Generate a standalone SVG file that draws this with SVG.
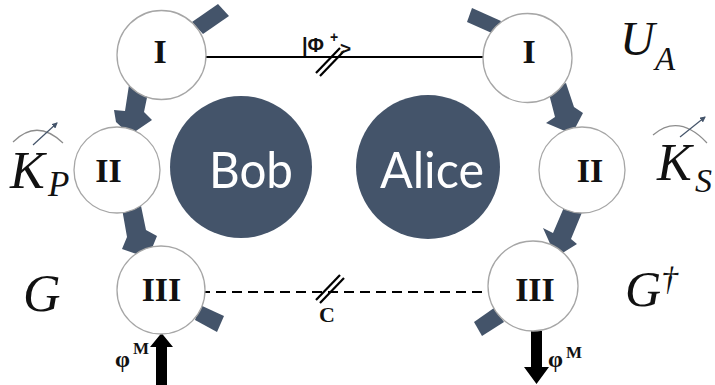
<svg xmlns="http://www.w3.org/2000/svg" width="715" height="385" viewBox="0 0 715 385">
  <defs>
    <style>
      .node { fill: #ffffff; stroke: #a6a6a6; stroke-width: 1.3; }
      .party { fill: #44546a; }
      .flow { fill: #44546a; }
      .roman { font-family: "Liberation Serif", "Times New Roman", serif; font-weight: bold; font-size: 34px; fill: #111111; text-anchor: middle; }
      .name { font-family: Lato, "Open Sans", sans-serif; font-size: 50px; fill: #ffffff; text-anchor: middle; }
      .math { font-family: "Liberation Serif", "Times New Roman", serif; font-style: italic; fill: #111111; }
      .lbl { font-family: "Liberation Serif", "Times New Roman", serif; font-weight: bold; fill: #111111; }
      .sans { font-family: "Liberation Sans", Arial, sans-serif; font-weight: bold; fill: #111111; }
      .gauge { fill: none; stroke: #8c8c8c; stroke-width: 1.2; }
      .needle { stroke: #44546a; stroke-width: 1.2; marker-end: url(#needleHead); }
    </style>
    <marker id="needleHead" markerWidth="6" markerHeight="6" refX="5" refY="3" orient="auto" markerUnits="userSpaceOnUse">
      <path d="M0,0 L6,3 L0,6 Z" fill="#44546a"/>
    </marker>
  </defs>

  <rect width="715" height="385" fill="#ffffff"/>

  <!-- connectors -->
  <g id="connectors">
    <!-- quantum channel -->
    <line x1="200" y1="57" x2="490" y2="57" stroke="#000" stroke-width="2"/>
    <line x1="316" y1="73" x2="340" y2="48" stroke="#000" stroke-width="2.2"/>
    <line x1="320" y1="76" x2="344" y2="51" stroke="#000" stroke-width="2.2"/>
    <!-- classical channel -->
    <line x1="200" y1="292" x2="492" y2="292" stroke="#000" stroke-width="2" stroke-dasharray="10,6"/>
    <line x1="316" y1="300" x2="340" y2="275" stroke="#000" stroke-width="2.2"/>
    <line x1="320" y1="303" x2="344" y2="278" stroke="#000" stroke-width="2.2"/>

    <!-- Bob-side flow -->
    <polygon class="flow" points="192,22 218,4 229,16 203,34"/>
    <polygon class="flow" points="129,85 149,88 144,112 152,120 130,135 116,122 114,110 125,111"/>
    <polygon class="flow" points="121,203 140,201 146,230 157,236 148,258 122,249 127,237"/>
    <polygon class="flow" points="200,305 224,316 217,332 195,320"/>

    <!-- Alice-side flow -->
    <polygon class="flow" points="472,8 501,21 494,34 467,22"/>
    <polygon class="flow" points="548,90 566,83 574,107 583,113 572,134 546,123 555,117"/>
    <polygon class="flow" points="565,205 583,210 571,239 577,244 556,257 543,228 553,233"/>
    <polygon class="flow" points="494,308 504,322 482,336 474,322"/>

    <!-- measurement inputs / outputs -->
    <polygon points="156,385 167,385 167,347 173,347 161.5,333 150,347 156,347" fill="#000"/>
    <polygon points="531,331 542,331 542,367 549,367 536.5,384 524,367 531,367" fill="#000"/>
  </g>

  <!-- Bob's nodes -->
  <g id="bob-I">
    <circle class="node" cx="161.5" cy="55" r="44.5"/>
    <text class="roman" x="160" y="63">I</text>
  </g>
  <g id="bob-II">
    <circle class="node" cx="117" cy="170" r="43"/>
    <text class="roman" x="108.5" y="182">II</text>
  </g>
  <g id="bob-III">
    <circle class="node" cx="161" cy="290" r="44"/>
    <text class="roman" x="161.5" y="301">III</text>
  </g>
  <g id="bob">
    <circle class="party" cx="241" cy="167" r="71"/>
    <text class="name" x="251" y="188" textLength="84" lengthAdjust="spacingAndGlyphs">Bob</text>
  </g>

  <!-- Alice's nodes -->
  <g id="alice-I">
    <circle class="node" cx="527.5" cy="58" r="44.5"/>
    <text class="roman" x="529" y="63">I</text>
  </g>
  <g id="alice-II">
    <circle class="node" cx="582" cy="170" r="43"/>
    <text class="roman" x="590" y="182">II</text>
  </g>
  <g id="alice-III">
    <circle class="node" cx="533" cy="286" r="45"/>
    <text class="roman" x="535" y="301">III</text>
  </g>
  <g id="alice">
    <circle class="party" cx="428" cy="167" r="72"/>
    <text class="name" x="432" y="188" textLength="104" lengthAdjust="spacingAndGlyphs">Alice</text>
  </g>

  <!-- channel labels -->
  <g id="labels">
    <text class="sans" x="302" y="52" font-size="20">|Φ</text>
    <text class="sans" x="330" y="42" font-size="14">+</text>
    <text class="sans" x="340" y="55" font-size="19" font-weight="normal">&gt;</text>
    <text class="lbl" x="327" y="322" font-size="22" text-anchor="middle">C</text>

    <text class="lbl" x="115" y="367" font-size="24">φ</text>
    <text class="lbl" x="133" y="354" font-size="17">M</text>
    <text class="lbl" x="548" y="367" font-size="24">φ</text>
    <text class="lbl" x="566" y="358" font-size="17">M</text>

    <!-- operator symbols -->
    <text class="math" x="620" y="55" font-size="48">U</text>
    <text class="math" x="655" y="70" font-size="33">A</text>

    <path class="gauge" d="M13,142 Q37,118 63,143"/>
    <line class="needle" x1="33" y1="145" x2="57" y2="123"/>
    <text class="math" x="10" y="188" font-size="52">K</text>
    <text class="math" x="48" y="196" font-size="35">P</text>

    <path class="gauge" d="M653,135 Q679,113 707,143"/>
    <line class="needle" x1="680" y1="137" x2="705" y2="117"/>
    <text class="math" x="657" y="180" font-size="52">K</text>
    <text class="math" x="695" y="192" font-size="34">S</text>

    <text class="math" x="23" y="311" font-size="52">G</text>
    <text class="math" x="625" y="306" font-size="50">G</text>
    <text class="math" x="661" y="290" font-size="34" font-style="normal">†</text>
  </g>
</svg>
